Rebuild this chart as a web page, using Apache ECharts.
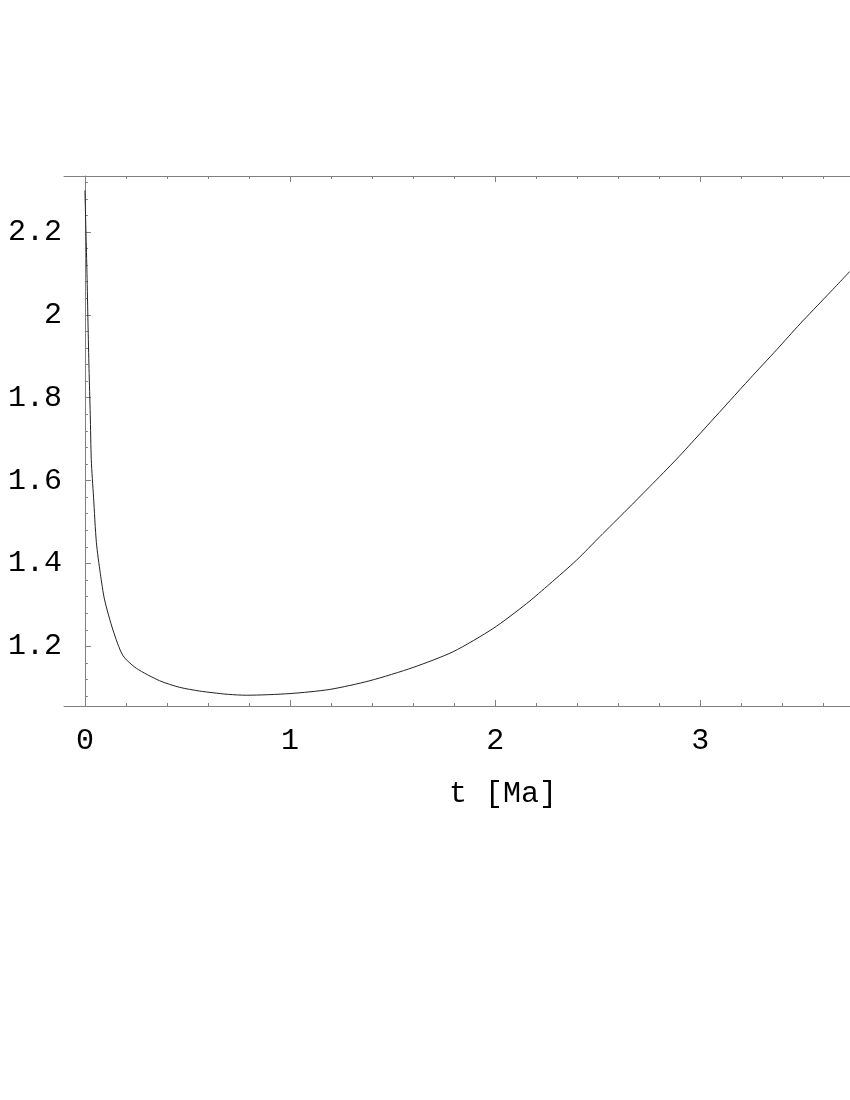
<!DOCTYPE html>
<html>
<head>
<meta charset="utf-8">
<script src="https://cdn.jsdelivr.net/npm/echarts@6/dist/echarts.min.js"></script>
<style>
  html, body { margin: 0; padding: 0; background: #fff; }
  #chart { width: 850px; height: 1100px; }
</style>
</head>
<body>
<div id="chart"></div>
<script>
// curve
const tValues = [0, 0.005, 0.01, 0.015, 0.02, 0.026, 0.031, 0.042, 0.056, 0.075, 0.096, 0.137, 0.185, 0.251, 0.364, 0.462, 0.56, 0.624, 0.7, 0.787, 1.0, 1.194, 1.389, 1.6, 1.795, 1.99, 2.153, 2.267, 2.397, 2.511, 2.641, 2.755, 2.885, 3.0, 3.145, 3.242, 3.373, 3.486, 3.617, 3.73]
const yValues = [2.30, 2.20, 2.10, 1.98, 1.87, 1.76, 1.65, 1.56, 1.45, 1.376, 1.312, 1.239, 1.178, 1.147, 1.117, 1.101, 1.092, 1.088, 1.084, 1.082, 1.086, 1.096, 1.117, 1.149, 1.187, 1.243, 1.303, 1.351, 1.408, 1.465, 1.529, 1.586, 1.652, 1.714, 1.793, 1.846, 1.916, 1.978, 2.046, 2.105]

// ticks
const xMajor = [0, 1, 2, 3]
const xMinor = [0.2, 0.4, 0.6, 0.8, 1.2, 1.4, 1.6, 1.8, 2.2, 2.4, 2.6, 2.8, 3.2, 3.4, 3.6]
const yMajor = [1.2, 1.4, 1.6, 1.8, 2, 2.2]
const yMinor = [1.08, 1.12, 1.16, 1.24, 1.28, 1.32, 1.36, 1.44, 1.48, 1.52, 1.56, 1.64, 1.68, 1.72, 1.76, 1.84, 1.88, 1.92, 1.96, 2.04, 2.08, 2.12, 2.16, 2.24, 2.28, 2.32]

const X_MIN = -0.102, X_MAX = 3.73
const Y_MIN = 1.056, Y_MAX = 2.335
const frameColor = '#808080'
const font = 'Liberation Mono'

const chart = echarts.init(document.getElementById('chart'))

function xAxisDef(pos, ticks, len, opts) {
  return Object.assign({
    type: 'value', position: pos, min: X_MIN, max: X_MAX,
    splitLine: { show: false },
    axisLine: { show: false },
    axisTick: { show: true, inside: true, length: len, customValues: ticks, lineStyle: { color: frameColor } },
    axisLabel: { show: false }
  }, opts || {})
}

function yAxisDef(ticks, len, opts) {
  return Object.assign({
    type: 'value', position: 'left', min: Y_MIN, max: Y_MAX,
    splitLine: { show: false },
    axisLine: { show: false },
    axisTick: { show: true, inside: true, length: len, customValues: ticks, lineStyle: { color: frameColor } },
    axisLabel: { show: false }
  }, opts || {})
}

const option = {
  animation: false,
  backgroundColor: '#fff',
  grid: { left: 64, top: 176, right: 0, bottom: 394, containLabel: false },
  xAxis: [
    xAxisDef('bottom', xMajor, 6, {
      axisLine: { show: true, lineStyle: { color: frameColor, width: 1 } },
      axisLabel: {
        show: true, customValues: xMajor, margin: 20,
        fontFamily: font, fontSize: 30, color: '#000'
      },
      name: 't [Ma]',
      nameLocation: 'middle',
      nameGap: 73,
      nameTextStyle: { fontFamily: font, fontSize: 30, color: '#000', padding: [0, 0, 0, 92] }
    }),
    xAxisDef('bottom', xMinor, 3),
    xAxisDef('top', xMajor, 6, {
      axisLine: { show: true, lineStyle: { color: frameColor, width: 1 } }
    }),
    xAxisDef('top', xMinor, 3)
  ],
  yAxis: [
    yAxisDef(yMajor, 6, {
      axisLine: { show: true, lineStyle: { color: frameColor, width: 1 } },
      axisLabel: {
        show: true, customValues: yMajor, margin: 2,
        fontFamily: font, fontSize: 30, color: '#000'
      }
    }),
    yAxisDef(yMinor, 3)
  ],
  series: [{
    type: 'line',
    xAxisIndex: 0,
    yAxisIndex: 0,
    data: tValues.map((t, i) => [t, yValues[i]]),
    showSymbol: false,
    smooth: 0.25,
    lineStyle: { color: '#222', width: 1 }
  }]
}

chart.setOption(option)
</script>
</body>
</html>
